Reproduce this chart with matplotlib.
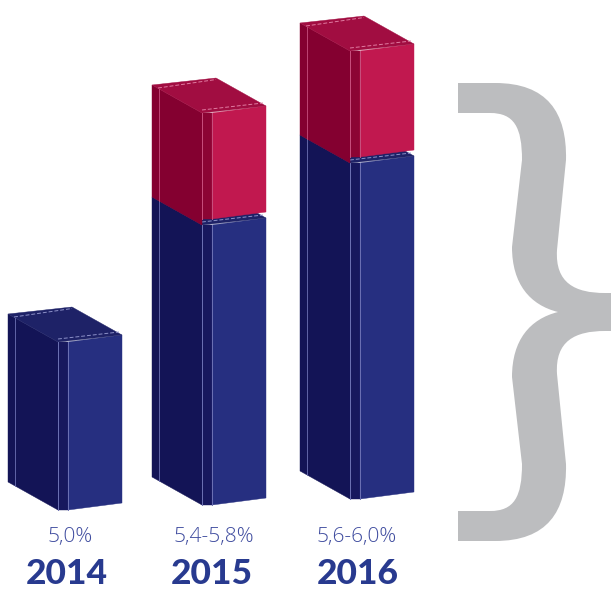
import numpy as np
import matplotlib.pyplot as plt
from matplotlib.path import Path
from matplotlib.patches import Polygon, PathPatch

# Data
years = ['2014', '2015', '2016']
low = [5.0, 5.4, 5.6]
high = [5.0, 5.8, 6.0]
range_labels = ['5,0%', '5,4-5,8%', '5,6-6,0%']
floor_val = 4.40

# Layout (pixels)
W, H = 611, 594
S = 280.0              # pixels per percentage point
base_px = 499          # pixel row of floor for the reference bar
front_x = [68, 212, 360]
drops = [11, 6, 0]
fw = 54                # front face width
cw = 10                # corner strip width
dx, dy = 50, 28        # depth vector of side face
slope = 7              # front face rises to the right
lift = 6               # red block sits a bit back on the blue one

blue = dict(front='#262f80', corner='#17185e', side='#131456', top='#1e2267',
            line='#6d72b4', dash='#8c90c8')
red = dict(front='#c1184f', corner='#8c0434', side='#840030', top='#a10d41',
           line='#c8507e', dash='#e07aa0')

fig = plt.figure(figsize=(W / 100, H / 100), dpi=100)
ax = fig.add_axes([0, 0, 1, 1])
ax.set_xlim(0, W)
ax.set_ylim(floor_val - (H - base_px) / S, floor_val + base_px / S)
ax.axis('off')


def draw_box(xf, v0, v1, drop, c, z, bot_lift=0):
    b = v0 - drop / S
    t = v1 - drop / S
    bf = b + bot_lift / S
    sl, d = slope / S, dy / S
    xc = xf - cw
    xs = xc - dx
    side = [(xs, b + d), (xc, b), (xc, t), (xs, t + d)]
    corner = [(xc, bf), (xf, bf), (xf, t), (xc, t)]
    front = [(xf, bf), (xf + fw, bf + sl), (xf + fw, t + sl), (xf, t)]
    top = [(xc, t), (xf + fw, t + sl), (xf + fw - dx, t + sl + d), (xs, t + d)]
    for pts, col in [(side, c['side']), (corner, c['corner']),
                     (front, c['front']), (top, c['top'])]:
        ax.add_patch(Polygon(pts, closed=True, facecolor=col, edgecolor=col,
                             lw=0.3, zorder=z))
    # thin highlight lines
    ax.plot([xc, xc], [bf, t], color=c['line'], lw=0.7, zorder=z + 1)
    ax.plot([xf, xf], [bf, t], color=c['line'], lw=0.7, zorder=z + 1)
    xl = xs + 7
    ax.plot([xl, xl], [b + d * (1 - 7 / dx), t + d * (1 - 7 / dx)],
            color=c['line'], lw=0.6, zorder=z + 1)
    # dashed bevel lines on the top face
    e = 3 / S
    ax.plot([xc, xf + fw - 3], [t + e, t + sl + e], color=c['dash'],
            lw=0.7, ls=(0, (4, 2)), zorder=z + 1)
    ax.plot([xs + 6, xf + fw - dx], [t + d - e, t + sl + d - e * 0.5],
            color=c['dash'], lw=0.7, ls=(0, (4, 2)), zorder=z + 1)


z = 2
for i in range(len(years)):
    draw_box(front_x[i], floor_val, low[i], drops[i], blue, z)
    z += 2
    if high[i] > low[i]:
        draw_box(front_x[i], low[i], high[i], drops[i], red, z, bot_lift=lift)
        z += 2

# overlay in pixel coordinates for the brace and labels
ov = fig.add_axes([0, 0, 1, 1])
ov.set_xlim(0, W)
ov.set_ylim(H, 0)
ov.axis('off')
ov.patch.set_alpha(0)

verts = [
    (458, 83), (495, 83),
    (547, 83), (567, 112), (566, 160),
    (557, 250),
    (555, 283), (575, 293), (605, 293),
    (611, 293), (611, 331), (605, 331),
    (575, 331), (555, 341), (557, 374),
    (566, 464),
    (567, 512), (547, 541), (495, 541),
    (458, 541), (458, 511), (490, 511),
    (514, 511), (522, 497), (522, 464),
    (512, 377),
    (512, 340), (530, 319), (558, 312),
    (530, 305), (512, 284), (512, 247),
    (522, 160),
    (522, 127), (514, 113), (490, 113),
    (458, 113), (458, 83),
]
codes = [Path.MOVETO, Path.LINETO,
         Path.CURVE4, Path.CURVE4, Path.CURVE4,
         Path.LINETO,
         Path.CURVE4, Path.CURVE4, Path.CURVE4,
         Path.LINETO, Path.LINETO, Path.LINETO,
         Path.CURVE4, Path.CURVE4, Path.CURVE4,
         Path.LINETO,
         Path.CURVE4, Path.CURVE4, Path.CURVE4,
         Path.LINETO, Path.LINETO, Path.LINETO,
         Path.CURVE4, Path.CURVE4, Path.CURVE4,
         Path.LINETO,
         Path.CURVE4, Path.CURVE4, Path.CURVE4,
         Path.CURVE4, Path.CURVE4, Path.CURVE4,
         Path.LINETO,
         Path.CURVE4, Path.CURVE4, Path.CURVE4,
         Path.LINETO, Path.CLOSEPOLY]
ov.add_patch(PathPatch(Path(verts, codes), facecolor='#bcbdbf',
                       edgecolor='none'))

pct_x = [70, 214, 357]
year_x = [67, 212, 358]
for i in range(len(years)):
    ov.text(pct_x[i], 537, range_labels[i], ha='center', va='center',
            fontsize=15, color='#3f4c9f', family=['Open Sans', 'DejaVu Sans'],
            fontweight='light')
    ov.text(year_x[i], 574, years[i], ha='center', va='center',
            fontsize=25.5, color='#283a8f', family=['Lato', 'DejaVu Sans'],
            fontweight='black')

fig.savefig('out.png', dpi=100)
